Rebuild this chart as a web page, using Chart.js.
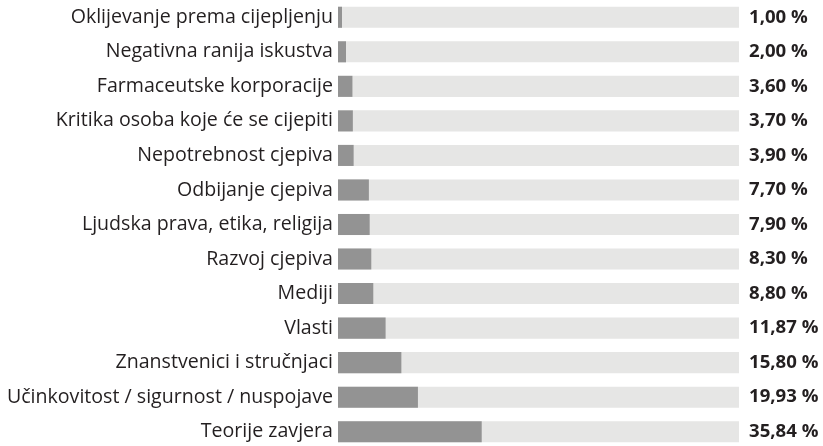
<!DOCTYPE html>
<html>
<head>
  <meta charset="utf-8">
  <title>Razlozi</title>
  <script src="https://cdn.jsdelivr.net/npm/chart.js"></script>
  <style>
    html, body { margin: 0; padding: 0; background: #fff; overflow: hidden; }
    #chart { display: block; }
  </style>
</head>
<body>
  <canvas id="chart" width="823" height="449"></canvas>
  <script>
    const categories = [
      "Oklijevanje prema cijepljenju",
      "Negativna ranija iskustva",
      "Farmaceutske korporacije",
      "Kritika osoba koje će se cijepiti",
      "Nepotrebnost cjepiva",
      "Odbijanje cjepiva",
      "Ljudska prava, etika, religija",
      "Razvoj cjepiva",
      "Mediji",
      "Vlasti",
      "Znanstvenici i stručnjaci",
      "Učinkovitost / sigurnost / nuspojave",
      "Teorije zavjera"
    ];
    const values = [1.00, 2.00, 3.60, 3.70, 3.90, 7.70, 7.90, 8.30, 8.80, 11.87, 15.80, 19.93, 35.84];
    const fullValues = categories.map(() => 100);

    const fontFamily = "'Open Sans', 'Noto Sans', sans-serif";
    const textColor = "#231f20";

    // draws the percentage text to the right of each track
    const valueLabels = {
      id: "valueLabels",
      afterDatasetsDraw(chart) {
        const ctx = chart.ctx;
        const meta = chart.getDatasetMeta(0);
        ctx.save();
        ctx.font = "bold 18.6px " + fontFamily;
        ctx.fillStyle = textColor;
        ctx.textAlign = "left";
        ctx.textBaseline = "middle";
        meta.data.forEach((bar, i) => {
          const txt = values[i].toFixed(2).replace(".", ",") + " %";
          ctx.fillText(txt, chart.chartArea.right + 10, bar.y);
        });
        ctx.restore();
      }
    };

    new Chart(document.getElementById("chart"), {
      type: "bar",
      data: {
        labels: categories,
        datasets: [
          {
            data: values,
            backgroundColor: "#939393",
            grouped: false,
            order: 0,
            barPercentage: 0.61,
            categoryPercentage: 1
          },
          {
            data: fullValues,
            backgroundColor: "#e6e6e5",
            grouped: false,
            order: 1,
            barPercentage: 0.61,
            categoryPercentage: 1
          }
        ]
      },
      options: {
        indexAxis: "y",
        responsive: false,
        animation: false,
        layout: { padding: { top: 0, bottom: 0, left: 0, right: 84 } },
        plugins: {
          legend: { display: false },
          tooltip: { enabled: false }
        },
        scales: {
          x: { display: false, min: 0, max: 100 },
          y: {
            grid: { display: false, drawTicks: false },
            border: { display: false },
            afterFit(scale) {
              scale.width = 338;
              scale.paddingTop = 0;
              scale.paddingBottom = 0;
            },
            ticks: {
              padding: 5,
              color: textColor,
              font: { family: fontFamily, size: 19.6 }
            }
          }
        }
      },
      plugins: [valueLabels]
    });
  </script>
</body>
</html>
